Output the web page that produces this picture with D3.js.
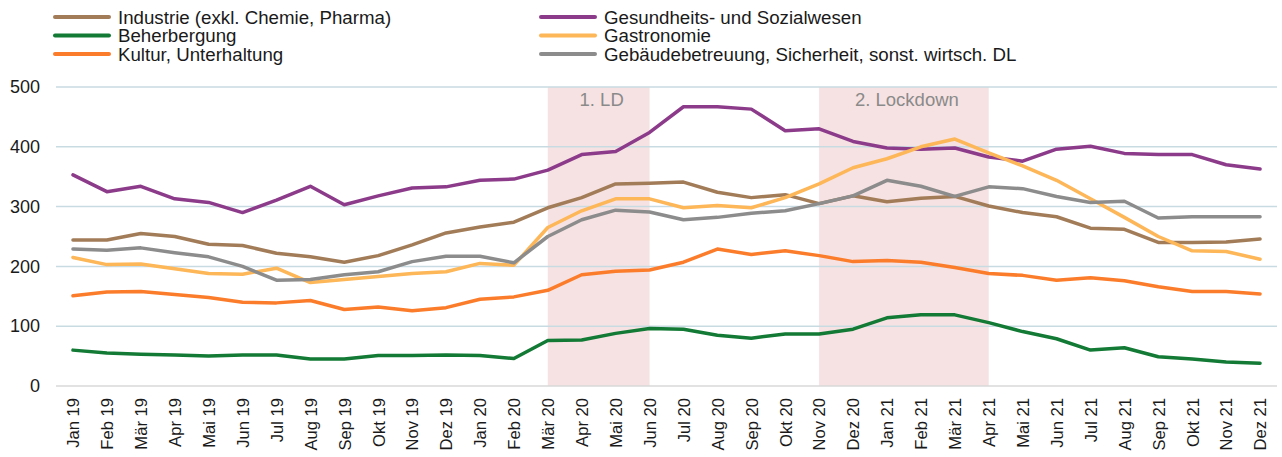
<!DOCTYPE html>
<html>
<head>
<meta charset="utf-8">
<script src="https://cdn.jsdelivr.net/npm/d3@7"></script>
<style>
  body { margin: 0; background: #fff; }
  svg { display: block; font-family: "Liberation Sans", Arial, sans-serif; }
</style>
</head>
<body>
<svg></svg>
<script>
// ----- Data ----- //
var months = ["Jan 19","Feb 19","Mär 19","Apr 19","Mai 19","Jun 19","Jul 19","Aug 19","Sep 19","Okt 19","Nov 19","Dez 19",
  "Jan 20","Feb 20","Mär 20","Apr 20","Mai 20","Jun 20","Jul 20","Aug 20","Sep 20","Okt 20","Nov 20","Dez 20",
  "Jan 21","Feb 21","Mär 21","Apr 21","Mai 21","Jun 21","Jul 21","Aug 21","Sep 21","Okt 21","Nov 21","Dez 21"];

var industrie = [244,244,255,250,237,235,222,216,207,218,236,256, 266,274,298,315,338,339,341,324,315,320,305,318, 308,314,317,301,290,283,264,262,240,240,241,246];
var gesundheit = [353,325,334,313,307,290,311,334,303,318,331,333, 344,346,361,387,392,424,467,467,463,427,430,409, 398,396,398,383,376,396,401,389,387,387,370,363];
var beherbergung = [60,55,53,52,50,52,52,45,45,51,51,52, 51,46,76,77,88,96,95,85,80,87,87,95, 114,119,119,106,91,79,60,64,49,45,40,38];
var gastronomie = [215,203,204,196,188,187,197,173,178,183,188,191, 205,202,265,293,313,313,298,302,298,315,338,365, 380,400,413,390,368,344,313,282,250,226,225,212];
var kultur = [151,157,158,153,148,140,139,143,128,132,126,131, 145,149,160,186,192,194,207,229,220,226,218,208, 210,207,198,188,185,177,181,176,166,158,158,154];
var gebaeude = [229,227,231,223,216,200,177,178,186,191,208,217, 217,206,250,278,294,291,278,282,289,293,305,318, 344,334,317,333,330,317,307,309,281,283,283,283];

var yTicks = [0,100,200,300,400,500];

var lockdowns = [
  {label: "1. LD", from: "Mär 20", to: "Jun 20"},
  {label: "2. Lockdown", from: "Nov 20", to: "Apr 21"}
];

var series = [
  {name: "Industrie (exkl. Chemie, Pharma)", values: industrie, color: "#a27c58", col: 0, row: 0},
  {name: "Beherbergung", values: beherbergung, color: "#127a35", col: 0, row: 1},
  {name: "Kultur, Unterhaltung", values: kultur, color: "#fb7d2b", col: 0, row: 2},
  {name: "Gesundheits- und Sozialwesen", values: gesundheit, color: "#8c3b8a", col: 1, row: 0},
  {name: "Gastronomie", values: gastronomie, color: "#fdb658", col: 1, row: 1},
  {name: "Gebäudebetreuung, Sicherheit, sonst. wirtsch. DL", values: gebaeude, color: "#8c8c8c", col: 1, row: 2}
];

// ----- SVG settings ----- //
var svgWidth = 1282;
var svgHeight = 457;
var svg = d3.select("svg")
  .attr("width", svgWidth)
  .attr("height", svgHeight);

var scale = {};
scale.x = d3.scalePoint()
  .domain(months)
  .range([56, 1277])
  .padding(0.5);
scale.y = d3.scaleLinear()
  .domain([0, 500])
  .range([386, 87]);

// ----- Lockdown bands ----- //
var bands = svg.append("g");
bands.selectAll("rect")
  .data(lockdowns)
  .enter()
  .append("rect")
  .attr("x", function(d) { return scale.x(d.from); })
  .attr("width", function(d) { return scale.x(d.to) - scale.x(d.from); })
  .attr("y", scale.y(500))
  .attr("height", scale.y(0) - scale.y(500))
  .style("fill", "#f6e2e2");

// ----- Grid ----- //
svg.append("g")
  .selectAll("line")
  .data(yTicks)
  .enter()
  .append("line")
  .attr("x1", 56)
  .attr("x2", 1277)
  .attr("y1", function(d) { return scale.y(d); })
  .attr("y2", function(d) { return scale.y(d); })
  .style("stroke", function(d) { return d === 0 ? "#d9d9d9" : "#c9dbe2"; })
  .style("stroke-width", 1.5);

bands.selectAll("text")
  .data(lockdowns)
  .enter()
  .append("text")
  .attr("x", function(d) { return (scale.x(d.from) + scale.x(d.to)) / 2 + 3; })
  .attr("y", 106)
  .attr("text-anchor", "middle")
  .style("font-size", "18.5px")
  .style("fill", "#8a8a8a")
  .text(function(d) { return d.label; });

// ----- Axes ----- //
var yAxis = svg.append("g")
  .attr("transform", translate(40, 0))
  .call(d3.axisLeft(scale.y).tickValues(yTicks).tickSize(0).tickPadding(0));
yAxis.select(".domain").remove();
yAxis.selectAll("text")
  .style("font-size", "18px")
  .style("font-family", "Liberation Sans, Arial, sans-serif")
  .style("fill", "#1a1a1a");

var xAxis = svg.append("g")
  .attr("transform", translate(0, 398))
  .call(d3.axisBottom(scale.x).tickSize(0).tickPadding(0));
xAxis.select(".domain").remove();
xAxis.selectAll("text")
  .attr("transform", "rotate(-90)")
  .attr("x", 0)
  .attr("y", 0)
  .attr("dy", "0.35em")
  .attr("text-anchor", "end")
  .style("font-size", "16.6px")
  .style("font-family", "Liberation Sans, Arial, sans-serif")
  .style("fill", "#1a1a1a");

// ----- Lines ----- //
var line = d3.line()
  .x(function(d, i) { return scale.x(months[i]); })
  .y(function(d) { return scale.y(d); });

svg.append("g")
  .selectAll("path")
  .data(series)
  .enter()
  .append("path")
  .attr("d", function(d) { return line(d.values); })
  .style("fill", "none")
  .style("stroke", function(d) { return d.color; })
  .style("stroke-width", 3.5)
  .style("stroke-linejoin", "round")
  .style("stroke-linecap", "round");

// ----- Legend ----- //
var legendX = [55, 541];
var legend = svg.append("g")
  .selectAll("g")
  .data(series)
  .enter()
  .append("g")
  .attr("transform", function(d) { return translate(legendX[d.col], 17 + d.row * 18.5); });

legend.append("line")
  .attr("x1", 0)
  .attr("x2", 54)
  .style("stroke", function(d) { return d.color; })
  .style("stroke-width", 4)
  .style("stroke-linecap", "round");

legend.append("text")
  .attr("x", 63)
  .attr("dy", "0.35em")
  .style("font-size", "18.7px")
  .style("fill", "#1a1a1a")
  .text(function(d) { return d.name; });

function translate(x, y) {
  return "translate(" + x + "," + y + ")";
}
</script>
</body>
</html>
